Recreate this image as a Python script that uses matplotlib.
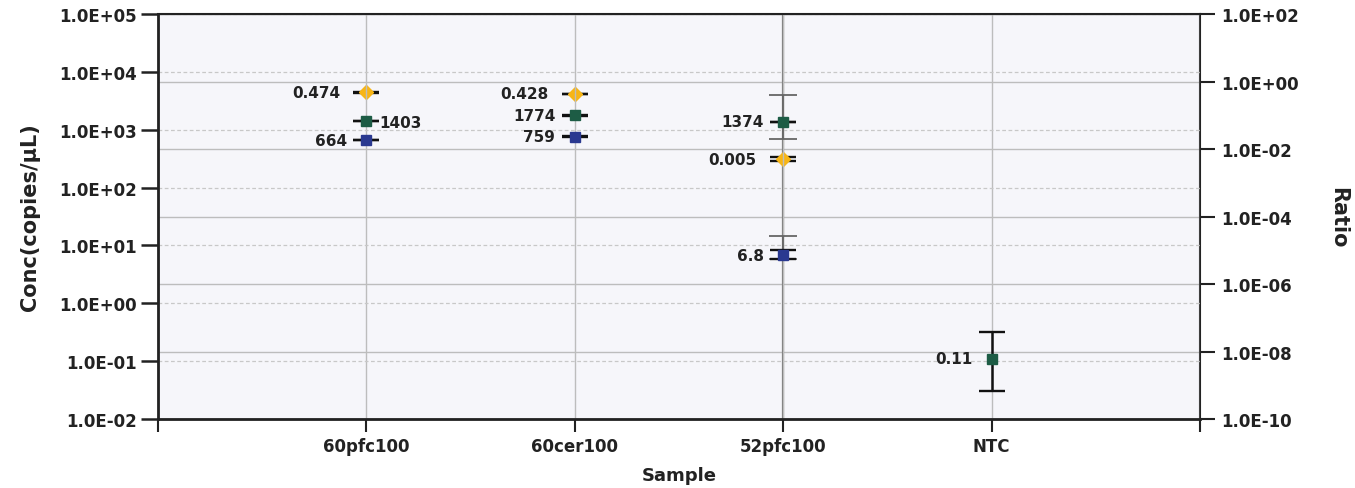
import numpy as np
import matplotlib.pyplot as plt
from matplotlib.ticker import FixedLocator, FuncFormatter, NullLocator

plt.rcParams['font.family'] = 'DejaVu Sans'
plt.rcParams['font.weight'] = 'bold'

samples = ['60pfc100', '60cer100', '52pfc100', 'NTC']

# channel 1 (green), copies/uL
conc_green = [1403, 1774, 1374, 0.11]
green_lo = [1390, 1760, 1362, 0.030]
green_hi = [1416, 1788, 1386, 0.316]
green_tot_lo = [np.nan, np.nan, 700, np.nan]
green_tot_hi = [np.nan, np.nan, 4060, np.nan]

# channel 2 (blue), copies/uL
conc_blue = [664, 759, 6.8, np.nan]
blue_lo = [658, 752, 5.9, np.nan]
blue_hi = [670, 766, 8.3, np.nan]
blue_tot_lo = [np.nan, np.nan, 5.9, np.nan]
blue_tot_hi = [np.nan, np.nan, 14.3, np.nan]

# ratio (yellow), right axis
ratio = [0.474, 0.428, 0.005, np.nan]
ratio_lo = [0.470, 0.424, 0.0043, np.nan]
ratio_hi = [0.478, 0.432, 0.0059, np.nan]
ratio_tot_lo = [np.nan, np.nan, 1e-12, np.nan]
ratio_tot_hi = [np.nan, np.nan, 1e3, np.nan]

left_ticks = 10.0 ** np.arange(-2, 6)
right_ticks = 10.0 ** np.arange(-10, 3, 2)

GREEN = '#1d5c45'
BLUE = '#2a3990'
YELLOW = '#f7b516'

x = np.arange(len(samples))

fig = plt.figure(figsize=(13.55, 4.89), dpi=100)
ax = fig.add_axes([0.1166, 0.1411, 0.7690, 0.8282])
ax2 = ax.twinx()
ax.set_zorder(ax2.get_zorder() + 1)
ax.patch.set_visible(False)
ax2.patch.set_visible(True)
ax2.patch.set_facecolor('#f6f6fa')

ax.set_yscale('log')
ax2.set_yscale('log')
ax.set_ylim(1e-2, 1e5)
ax2.set_ylim(1e-10, 1e2)
ax.set_xlim(-1, 4)


def err(vals, lo, hi):
    v = np.array(vals, float)
    return [v - np.array(lo, float), np.array(hi, float) - v]


# total error bars (grey)
ax2.errorbar(x, ratio, yerr=err(ratio, ratio_tot_lo, ratio_tot_hi), fmt='none',
             ecolor='#777777', elinewidth=1.6, capsize=0)
ax.errorbar(x, conc_green, yerr=err(conc_green, green_tot_lo, green_tot_hi), fmt='none',
            ecolor='#666666', elinewidth=1.3, capsize=10, capthick=1.3)
ax.errorbar(x, conc_blue, yerr=err(conc_blue, blue_tot_lo, blue_tot_hi), fmt='none',
            ecolor='#666666', elinewidth=1.3, capsize=10, capthick=1.3)

# points with inner error bars
ax2.errorbar(x, ratio, yerr=err(ratio, ratio_lo, ratio_hi), fmt='D', ms=7,
             color=YELLOW, mec=YELLOW, ecolor='#111111', elinewidth=1.5,
             capsize=9.5, capthick=1.7)
ax.errorbar(x, conc_green, yerr=err(conc_green, green_lo, green_hi), fmt='s', ms=7.5,
            color=GREEN, mec=GREEN, ecolor='#111111', elinewidth=1.8,
            capsize=9.5, capthick=1.7)
ax.errorbar(x, conc_blue, yerr=err(conc_blue, blue_lo, blue_hi), fmt='s', ms=7.5,
            color=BLUE, mec=BLUE, ecolor='#111111', elinewidth=1.5,
            capsize=9.5, capthick=1.7)

# value labels
lab = dict(textcoords='offset points', va='center', fontsize=11, fontweight='bold',
           color='#222222')
for i in range(len(samples)):
    if not np.isnan(ratio[i]):
        ax2.annotate(f'{ratio[i]:g}', (x[i], ratio[i]), xytext=(-19, 0), ha='right', **lab)
    if i == 0:
        ax.annotate(f'{conc_green[i]:g}', (x[i], conc_green[i]), xytext=(9, -1), ha='left', **lab)
    else:
        ax.annotate(f'{conc_green[i]:g}', (x[i], conc_green[i]), xytext=(-14, 0), ha='right', **lab)
    if not np.isnan(conc_blue[i]):
        ax.annotate(f'{conc_blue[i]:g}', (x[i], conc_blue[i]), xytext=(-14, 0), ha='right', **lab)

fmt = FuncFormatter(lambda v, p: f'{v:.1E}')
ax.yaxis.set_major_locator(FixedLocator(left_ticks))
ax.yaxis.set_minor_locator(NullLocator())
ax.yaxis.set_major_formatter(fmt)
ax2.yaxis.set_major_locator(FixedLocator(right_ticks))
ax2.yaxis.set_minor_locator(NullLocator())
ax2.yaxis.set_major_formatter(fmt)

ax.set_xticks(np.arange(-1, len(samples) + 1))
ax.set_xticklabels([''] + samples + [''])

ax.yaxis.grid(True, color='#c8c8c8', linestyle=(0, (3, 2)), linewidth=0.9)
ax.xaxis.grid(True, color='#bdbdbd', linestyle='-', linewidth=1.0)
ax2.yaxis.grid(True, color='#bdbdbd', linestyle='-', linewidth=1.0)
ax.set_axisbelow(True)
ax2.set_axisbelow(True)

ax.tick_params(axis='y', length=12, width=1.8, labelsize=12, pad=3, colors='#222222')
ax.tick_params(axis='x', length=9, width=1.5, labelsize=12, pad=4, colors='#222222')
ax2.tick_params(axis='y', length=11, width=1.5, labelsize=12, pad=4, colors='#222222')

for a in (ax, ax2):
    for s in a.spines.values():
        s.set_color('#222222')
ax.spines['left'].set_linewidth(2)
ax.spines['bottom'].set_linewidth(2)
ax.spines['top'].set_linewidth(1.5)
ax.spines['right'].set_visible(False)
ax2.spines['right'].set_linewidth(1.5)

ax.set_ylabel('Conc(copies/μL)', fontsize=15, fontweight='bold', labelpad=14, color='#222222')
ax2.set_ylabel('Ratio', fontsize=15, fontweight='bold', rotation=270, labelpad=36, color='#222222')
ax.set_xlabel('Sample', fontsize=13, fontweight='bold', labelpad=8, color='#222222')

fig.savefig('out.png', dpi=100)
